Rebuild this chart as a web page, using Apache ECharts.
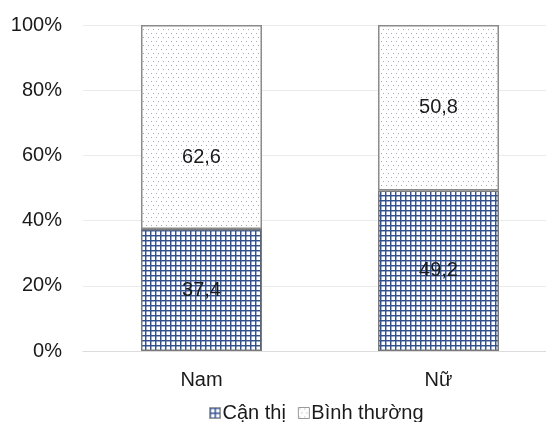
<!DOCTYPE html>
<html>
<head>
<meta charset="utf-8">
<script src="https://cdn.jsdelivr.net/npm/echarts@6/dist/echarts.min.js"></script>
<style>
  html, body { margin: 0; padding: 0; background: #fff; }
  #chart { width: 546px; height: 422px; }
</style>
</head>
<body>
<div id="chart"></div>
<script>
// Categories and stacked percentages
const categories = ['Nam', 'Nữ'];
const canThi = [37.4, 49.2];
const binhThuong = [62.6, 50.8];
const seriesNames = ['Cận thị', 'Bình thường'];
const yTicks = [0, 20, 40, 60, 80, 100];

// Blue crosshatch fill
function gridPattern() {
  const c = document.createElement('canvas');
  c.width = 5; c.height = 5;
  const g = c.getContext('2d');
  g.fillStyle = '#ffffff';
  g.fillRect(0, 0, 5, 5);
  g.fillStyle = '#34518f';
  g.fillRect(0, 0, 5, 1);
  g.fillRect(0, 0, 1, 5);
  g.fillStyle = 'rgba(52,81,143,0.45)';
  g.fillRect(1, 1, 4, 1);
  g.fillRect(1, 1, 1, 4);
  return c;
}

// Staggered grey dot fill
function dotPattern() {
  const c = document.createElement('canvas');
  c.width = 5; c.height = 8;
  const g = c.getContext('2d');
  g.fillStyle = '#ffffff';
  g.fillRect(0, 0, 5, 8);
  g.fillStyle = '#a6a9b8';
  g.fillRect(1, 1, 1, 1);
  g.fillRect(3, 5, 1, 1);
  return c;
}

const fmt = v => String(v).replace('.', ',');
const FONT = 'Liberation Sans, Arial, sans-serif';
const textStyle = { fontFamily: FONT, color: '#1a1a1a', fontSize: 20 };

const labelStyle = {
  show: true,
  position: 'inside',
  formatter: p => fmt(p.value),
  fontFamily: FONT,
  fontSize: 20,
  color: '#1a1a1a'
};

const chart = echarts.init(document.getElementById('chart'));
chart.setOption({
  animation: false,
  textStyle: textStyle,
  grid: { left: 83, width: 474, top: 25, height: 326, containLabel: false, outerBoundsMode: 'none' },
  legend: {
    data: seriesNames,
    left: 204,
    top: 398,
    icon: 'rect',
    itemWidth: 11,
    itemHeight: 11,
    itemGap: 12,
    itemStyle: { borderColor: '#9a9a9a', borderWidth: 1 },
    textStyle: Object.assign({}, textStyle, { padding: [0, 0, 0, -3] })
  },
  xAxis: {
    type: 'category',
    data: categories,
    axisTick: { show: false },
    axisLine: { show: true, lineStyle: { color: '#dcdcdc', width: 1 } },
    axisLabel: Object.assign({}, textStyle, { margin: 19 })
  },
  yAxis: {
    type: 'value',
    min: yTicks[0],
    max: yTicks[yTicks.length - 1],
    interval: yTicks[1] - yTicks[0],
    axisLine: { show: false },
    axisTick: { show: false },
    splitLine: { lineStyle: { color: '#ebebeb', width: 1 } },
    axisLabel: Object.assign({}, textStyle, { margin: 21, formatter: v => v + '%' })
  },
  series: [
    {
      name: seriesNames[0],
      type: 'bar',
      stack: 'total',
      barWidth: 121,
      data: canThi,
      itemStyle: {
        color: { image: gridPattern(), repeat: 'repeat' },
        borderColor: '#7a7a7a',
        borderWidth: 1.5
      },
      label: labelStyle
    },
    {
      name: seriesNames[1],
      type: 'bar',
      stack: 'total',
      barWidth: 121,
      data: binhThuong.map((v, i) => i === 0
        ? { value: v, label: { offset: [0, 30] } }
        : v),
      itemStyle: {
        color: { image: dotPattern(), repeat: 'repeat' },
        borderColor: '#8a8a8a',
        borderWidth: 1.5
      },
      label: labelStyle
    }
  ]
});
</script>
</body>
</html>
